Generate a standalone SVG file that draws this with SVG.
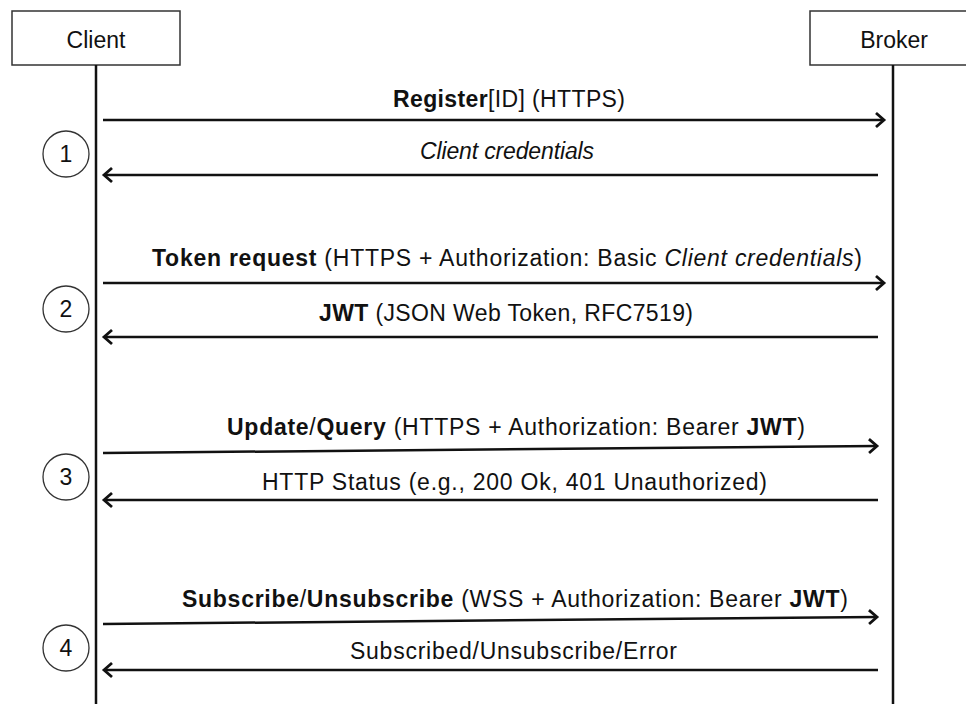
<svg xmlns="http://www.w3.org/2000/svg" width="966" height="704" viewBox="0 0 966 704">
<style>
text{font-family:"Liberation Sans",Arial,sans-serif;font-size:23px;fill:#111}
.b{font-weight:bold}
.i{font-style:italic}
.box{fill:#fff;stroke:#333;stroke-width:1.5}
.life{stroke:#111;stroke-width:2.5}
.msg{stroke:#111;stroke-width:2.5;fill:none}
.num{fill:#fff;stroke:#333;stroke-width:1.3}
</style>
<defs>
<marker id="ah" markerUnits="userSpaceOnUse" markerWidth="20" markerHeight="20" refX="10" refY="10" orient="auto">
<path d="M2,3 L10,10 L2,17" fill="none" stroke="#111" stroke-width="2.8" stroke-linejoin="miter"/>
</marker>
</defs>
<g id="client">
<rect class="box" x="12" y="11" width="168" height="54"/>
<text x="96" y="48" text-anchor="middle">Client</text>
<line class="life" x1="96" y1="65" x2="96" y2="704"/>
</g>
<g id="broker">
<rect class="box" x="810" y="11" width="170" height="54"/>
<text x="894" y="48" text-anchor="middle">Broker</text>
<line class="life" x1="893" y1="65" x2="893" y2="704"/>
</g>
<g id="steps">
<g id="step1"><circle class="num" cx="66" cy="154" r="23"/><text x="66" y="162" text-anchor="middle">1</text></g>
<g id="step2"><circle class="num" cx="66" cy="309" r="23"/><text x="66" y="317" text-anchor="middle">2</text></g>
<g id="step3"><circle class="num" cx="66" cy="477" r="23"/><text x="66" y="485" text-anchor="middle">3</text></g>
<g id="step4"><circle class="num" cx="66" cy="648" r="23"/><text x="66" y="656" text-anchor="middle">4</text></g>
</g>
<g id="connectors">
<line class="msg" x1="103" y1="120" x2="884" y2="120" marker-end="url(#ah)"/>
<line class="msg" x1="878" y1="175" x2="104" y2="175" marker-end="url(#ah)"/>
<line class="msg" x1="103" y1="283" x2="884" y2="283" marker-end="url(#ah)"/>
<line class="msg" x1="878" y1="337" x2="104" y2="337" marker-end="url(#ah)"/>
<line class="msg" x1="103" y1="453" x2="877" y2="446" marker-end="url(#ah)"/>
<line class="msg" x1="878" y1="500" x2="104" y2="500" marker-end="url(#ah)"/>
<line class="msg" x1="103" y1="624" x2="877" y2="617" marker-end="url(#ah)"/>
<line class="msg" x1="878" y1="670" x2="104" y2="670" marker-end="url(#ah)"/>
</g>
<g id="labels">
<text x="393" y="107" textLength="232" lengthAdjust="spacing"><tspan class="b">Register</tspan>[ID] (HTTPS)</text>
<text x="420" y="159" class="i" textLength="174" lengthAdjust="spacing">Client credentials</text>
<text x="152" y="266" textLength="710" lengthAdjust="spacing"><tspan class="b">Token request</tspan> (HTTPS + Authorization: Basic <tspan class="i">Client credentials</tspan>)</text>
<text x="319" y="321" textLength="374" lengthAdjust="spacing"><tspan class="b">JWT</tspan> (JSON Web Token, RFC7519)</text>
<text x="227" y="435" textLength="578" lengthAdjust="spacing"><tspan class="b">Update</tspan>/<tspan class="b">Query</tspan> (HTTPS + Authorization: Bearer <tspan class="b">JWT</tspan>)</text>
<text x="262" y="490" textLength="505" lengthAdjust="spacing">HTTP Status (e.g., 200 Ok, 401 Unauthorized)</text>
<text x="182" y="607" textLength="666" lengthAdjust="spacing"><tspan class="b">Subscribe</tspan>/<tspan class="b">Unsubscribe</tspan> (WSS + Authorization: Bearer <tspan class="b">JWT</tspan>)</text>
<text x="350" y="659" textLength="327" lengthAdjust="spacing">Subscribed/Unsubscribe/Error</text>
</g>
</svg>
